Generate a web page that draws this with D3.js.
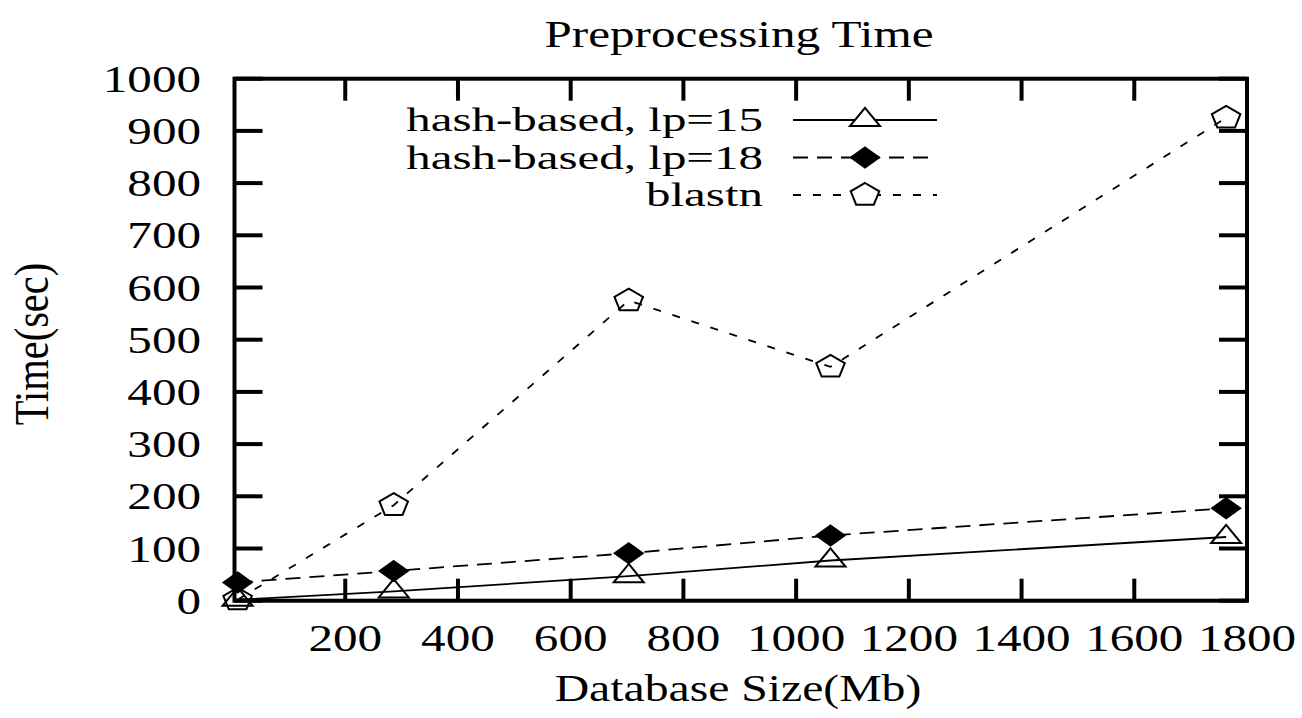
<!DOCTYPE html>
<html>
<head>
<meta charset="utf-8">
<script src="https://cdn.jsdelivr.net/npm/d3@7"></script>
<style>
  html, body { margin: 0; padding: 0; background: #fff; }
  svg { display: block; }
  text { fill: #000; }
</style>
</head>
<body>
<svg id="chart" width="1302" height="718"></svg>
<script>
// ---- data ----
const sizes   = [9, 286, 703, 1061, 1763];
const hash15  = [2, 18, 47, 77, 122];
const hash18  = [35, 57, 91, 125, 177];
const blastn  = [2, 183, 575, 448, 925];
const seriesNames = ["hash-based, lp=15", "hash-based, lp=18", "blastn"];
const xTicks = [200, 400, 600, 800, 1000, 1200, 1400, 1600, 1800];
const yTicks = [0, 100, 200, 300, 400, 500, 600, 700, 800, 900, 1000];
const titleText = "Preprocessing Time";
const xLabel = "Database Size(Mb)";
const yLabel = "Time(sec)";

// ---- font detection ----
const ctx = document.createElement("canvas").getContext("2d");
function mw(fam, size, str) { ctx.font = size + "px " + fam; return ctx.measureText(str || titleText).width; }
const candidates = ['"Liberation Serif"', '"Times New Roman"', 'Tinos', 'Times', '"Nimbus Roman"'];
let FAMILY = '"DejaVu Serif"';
for (const c of candidates) {
  if (Math.abs(mw(c + ', "DejaVu Sans Mono"', 38) - mw('"DejaVu Sans Mono"', 38)) > 1) { FAMILY = c; break; }
}
const isTimes = FAMILY !== '"DejaVu Serif"';
const FS = isTimes ? 38.5 : 35.5;
const SX = 390 / mw(FAMILY, FS);
const LEG_FS = isTimes ? 34 : 31.5;
const LEG_SX = 357 / mw(FAMILY, LEG_FS, "hash-based, lp=15");

// ---- layout ----
const svg = d3.select("#chart");
const L = 234.5, R = 1247, T = 78.7, B = 600.7;
const x = d3.scaleLinear().domain([3.5, 1800]).range([L, R]);
const y = d3.scaleLinear().domain([0, 1000]).range([B, T]);

function stretchedText(g, tx, ty, str, anchor, fs, sx) {
  return g.append("text")
    .attr("transform", `translate(${tx},${ty}) scale(${sx || SX},1)`)
    .attr("text-anchor", anchor)
    .style("font-family", FAMILY)
    .attr("font-size", fs || FS)
    .text(str);
}

// frame
svg.append("rect").attr("x", L).attr("y", T).attr("width", R - L).attr("height", B - T)
  .attr("fill", "none").attr("stroke", "#000").attr("stroke-width", 4);

// y ticks (both sides, inward)
const gy = svg.append("g");
yTicks.forEach(v => {
  gy.append("line").attr("x1", L).attr("x2", L + 28).attr("y1", y(v)).attr("y2", y(v))
    .attr("stroke", "#000").attr("stroke-width", 4);
  gy.append("line").attr("x1", R).attr("x2", R - 28).attr("y1", y(v)).attr("y2", y(v))
    .attr("stroke", "#000").attr("stroke-width", 4);
  stretchedText(gy, 201, y(v) + 13, String(v), "end");
});

// x ticks (both sides, inward)
const gx = svg.append("g");
xTicks.forEach(v => {
  gx.append("line").attr("x1", x(v)).attr("x2", x(v)).attr("y1", B).attr("y2", B - 22)
    .attr("stroke", "#000").attr("stroke-width", 4);
  gx.append("line").attr("x1", x(v)).attr("x2", x(v)).attr("y1", T).attr("y2", T + 22)
    .attr("stroke", "#000").attr("stroke-width", 4);
  stretchedText(gx, x(v), 651, String(v), "middle");
});

// titles
stretchedText(svg, 739, 47, titleText, "middle");
stretchedText(svg, 738, 701, xLabel, "middle", FS, SX * 0.97);
svg.append("text")
  .attr("transform", `translate(48,344) rotate(-90) scale(1.05,${SX})`)
  .attr("text-anchor", "middle").style("font-family", FAMILY).attr("font-size", FS).text(yLabel);

// ---- markers ----
function triPath() { return "M0,-12.2 L15,6.1 L-15,6.1 Z"; }
function diaPath() { return "M0,-10 L14,0 L0,10 L-14,0 Z"; }
function pentPath() {
  const r = 12, pts = [];
  for (let i = 0; i < 5; i++) {
    const a = -Math.PI / 2 + i * 2 * Math.PI / 5;
    pts.push([1.25 * r * Math.cos(a), r * Math.sin(a)]);
  }
  return "M" + pts.map(p => p[0].toFixed(2) + "," + p[1].toFixed(2)).join("L") + "Z";
}

const series = [
  { name: seriesNames[0], vals: hash15, dash: null,   marker: triPath(),  filled: false },
  { name: seriesNames[1], vals: hash18, dash: "15,9", marker: diaPath(),  filled: true },
  { name: seriesNames[2], vals: blastn, dash: "8,12", marker: pentPath(), filled: false }
];

const line = d3.line().x(d => x(d[0])).y(d => y(d[1]));
series.forEach(s => {
  const pts = sizes.map((sz, i) => [sz, s.vals[i]]);
  svg.append("path").attr("d", line(pts)).attr("fill", "none")
    .attr("stroke", "#000").attr("stroke-width", 1.8)
    .attr("stroke-dasharray", s.dash);
  svg.append("g").selectAll("path").data(pts).join("path")
    .attr("transform", d => `translate(${x(d[0])},${y(d[1])})`)
    .attr("d", s.marker)
    .attr("fill", s.filled ? "#000" : "none")
    .attr("stroke", "#000").attr("stroke-width", 2);
});

// ---- legend ----
const legY = [120, 157.5, 195];
series.forEach((s, i) => {
  const ly = legY[i];
  stretchedText(svg, 763, ly + 11, s.name, "end", LEG_FS, LEG_SX);
  svg.append("line").attr("x1", 793).attr("x2", 937).attr("y1", ly).attr("y2", ly)
    .attr("stroke", "#000").attr("stroke-width", 1.8).attr("stroke-dasharray", s.dash);
  svg.append("path").attr("transform", `translate(865,${ly})`).attr("d", s.marker)
    .attr("fill", s.filled ? "#000" : "#fff")
    .attr("stroke", "#000").attr("stroke-width", 2);
});
</script>
</body>
</html>
